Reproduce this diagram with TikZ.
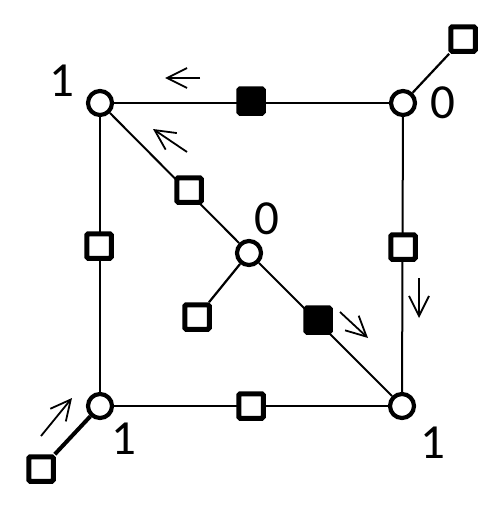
\documentclass[tikz,border=0pt]{standalone}
\usepackage{fontspec}
\setmainfont{Carlito}
\usetikzlibrary{arrows.meta}
\begin{document}
\begin{tikzpicture}[x=1pt,y=-1pt,
 vtx/.style={circle,draw,line width=4.2pt,fill=white,minimum size=24pt,inner sep=0pt},
 hsq/.style={rectangle,draw,line width=5pt,fill=white,minimum size=24.5pt,inner sep=0pt,rounded corners=1.5pt},
 fsq/.style={hsq,fill=black},
 edgeline/.style={line width=2pt},
 pend/.style={line width=2.2pt},
 thickpend/.style={line width=4pt},
 flow/.style={line width=1.8pt,-{Straight Barb[length=20pt,width=20pt]}},
 lbl/.style={font=\fontsize{49}{50}\selectfont,inner sep=0pt}]
\useasboundingbox (0,0) rectangle (487,506);
% vertices
\node[vtx] (TL) at (100,103) {};
\node[vtx] (TR) at (403,103) {};
\node[vtx] (BL) at (100,406) {};
\node[vtx] (BR) at (402,406) {};
\node[vtx] (C)  at (249,253) {};
% edges
\draw[edgeline] (TL) -- (TR);
\draw[edgeline] (TL) -- (BL);
\draw[edgeline] (BL) -- (BR);
\draw[edgeline] (TR) -- (BR);
\draw[edgeline] (TL) -- (C);
\draw[edgeline] (C) -- (BR);
% squares on edges
\node[fsq] (Stop) at (251,101) {};
\node[hsq] (Sleft) at (99,246) {};
\node[hsq] (Sbot) at (251,406) {};
\node[hsq] (Sright) at (403,247) {};
\node[hsq] (Sdiag) at (189,190) {};
\node[fsq] (Sdiag2) at (318,320) {};
% pendant squares
\node[hsq] (Ptr) at (463,39) {};
\node[hsq] (Pc)  at (197,317) {};
\node[hsq] (Pbl) at (41,469) {};
\draw[pend] (TR) -- (Ptr);
\draw[pend] (C) -- (Pc);
\draw[thickpend] (BL) -- (Pbl);
% labels
\node[lbl] (lTL) at (62,81) {1};
\node[lbl] (lTR) at (443,103) {0};
\node[lbl] (lC)  at (267,219) {0};
\node[lbl] (lBL) at (124,439) {1};
\node[lbl] (lBR) at (433,443) {1};
% flow arrows
\coordinate (a1s) at (200,78);  \coordinate (a1e) at (165,78);
\coordinate (a2s) at (187,152); \coordinate (a2e) at (153,129);
\coordinate (a3s) at (340,312); \coordinate (a3e) at (368,338);
\coordinate (a4s) at (419,278); \coordinate (a4e) at (419,318);
\coordinate (a5s) at (41,436);  \coordinate (a5e) at (72,398);
\draw[flow] (a1s) -- (a1e);
\draw[flow] (a2s) -- (a2e);
\draw[flow] (a3s) -- (a3e);
\draw[flow] (a4s) -- (a4e);
\draw[flow] (a5s) -- (a5e);
\end{tikzpicture}
\end{document}
